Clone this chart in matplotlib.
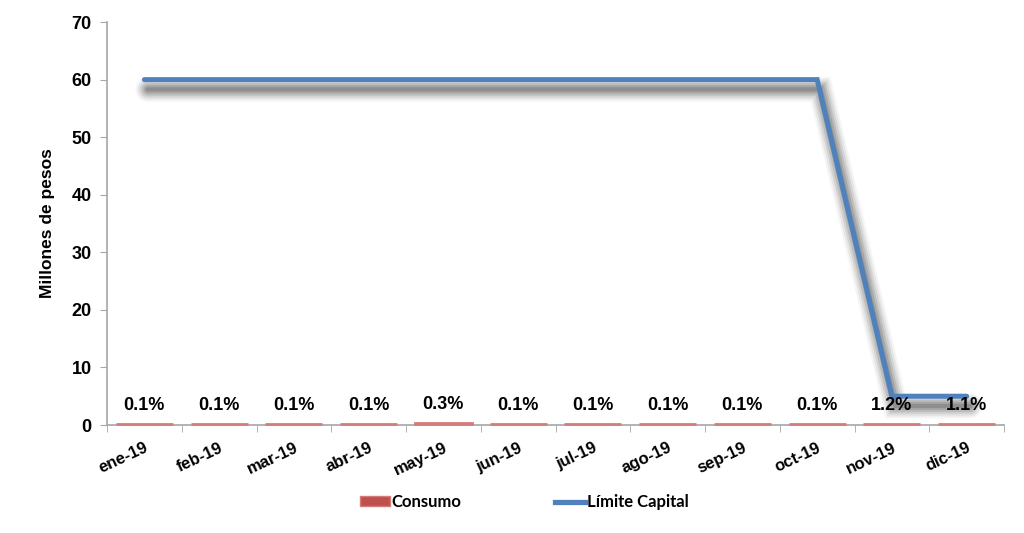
import numpy as np
import matplotlib
matplotlib.use("Agg")
import matplotlib.pyplot as plt
import matplotlib.patheffects as pe
from matplotlib.lines import Line2D
from matplotlib.patches import Patch

plt.rcParams['font.family'] = ['Liberation Sans', 'DejaVu Sans']

meses = ['ene-19', 'feb-19', 'mar-19', 'abr-19', 'may-19', 'jun-19',
         'jul-19', 'ago-19', 'sep-19', 'oct-19', 'nov-19', 'dic-19']
# millones de pesos
consumo = [0.06, 0.06, 0.06, 0.06, 0.18, 0.06, 0.06, 0.06, 0.06, 0.06, 0.06, 0.055]
limite = [60, 60, 60, 60, 60, 60, 60, 60, 60, 60, 5, 5]
etiquetas = ['0.1%', '0.1%', '0.1%', '0.1%', '0.3%', '0.1%',
             '0.1%', '0.1%', '0.1%', '0.1%', '1.2%', '1.1%']

rojo = '#C0504D'
borde = '#D47C7A'
azul = '#4F81BD'
gris = '#A6A6A6'

fig = plt.figure(figsize=(10.24, 5.33), dpi=100)
ax = fig.add_axes([0.1045, 0.2026, 0.876, 0.756])

x = np.arange(len(meses))
barras = ax.bar(x, consumo, width=0.76, bottom=0.12, color=rojo, edgecolor=borde,
                linewidth=2.0, zorder=3)
for b in barras:
    b.set_clip_on(False)

# sombra difusa bajo la linea
sombra = []
for w, a in [(18, 0.04), (15, 0.06), (12, 0.08), (9, 0.10), (6, 0.12), (3, 0.14)]:
    sombra.append(pe.SimpleLineShadow(offset=(2.5, -7), shadow_color='black',
                                      alpha=a, linewidth=w))
sombra.append(pe.Normal())
ax.plot(x, limite, color=azul, linewidth=3.6, solid_capstyle='round',
        solid_joinstyle='miter', zorder=4, path_effects=sombra)

for i, (v, t) in enumerate(zip(consumo, etiquetas)):
    ax.annotate(t, (i, v), xytext=(0, 8), textcoords='offset points',
                ha='center', va='bottom', fontsize=13, fontweight='bold', zorder=5)

ax.set_xlim(-0.5, len(meses) - 0.5)
ax.set_ylim(0, 70)
ax.set_yticks(range(0, 71, 10))
ax.set_xticks(x)
ax.set_xticklabels(meses, rotation=25, ha='right', rotation_mode='anchor',
                   fontsize=12, fontweight='bold')
ax.set_xticks(np.arange(-0.5, len(meses), 1), minor=True)
ax.tick_params(axis='x', which='major', length=0, pad=11)
ax.tick_params(axis='x', which='minor', length=5, color=gris, direction='out')
ax.tick_params(axis='y', length=5, color=gris, labelsize=13, pad=6)
for lab in ax.get_yticklabels():
    lab.set_fontweight('bold')

for s in ['top', 'right']:
    ax.spines[s].set_visible(False)
for s in ['left', 'bottom']:
    ax.spines[s].set_color(gris)
    ax.spines[s].set_linewidth(1.2)

ax.set_ylabel('Millones de pesos', fontsize=12.5, fontweight='bold', labelpad=12)

handles = [Patch(facecolor=rojo, edgecolor=borde),
           Line2D([0], [0], color=azul, linewidth=3.8)]
fig.legend(handles, ['Consumo', 'Límite Capital'], loc='center',
           bbox_to_anchor=(0.512, 0.058), ncol=2, frameon=False,
           prop={'family': ['Lato', 'DejaVu Sans'], 'weight': 'bold', 'size': 12},
           handlelength=1.8, handleheight=0.5, columnspacing=5.6, handletextpad=0.1)

fig.savefig('out.png', dpi=100)
